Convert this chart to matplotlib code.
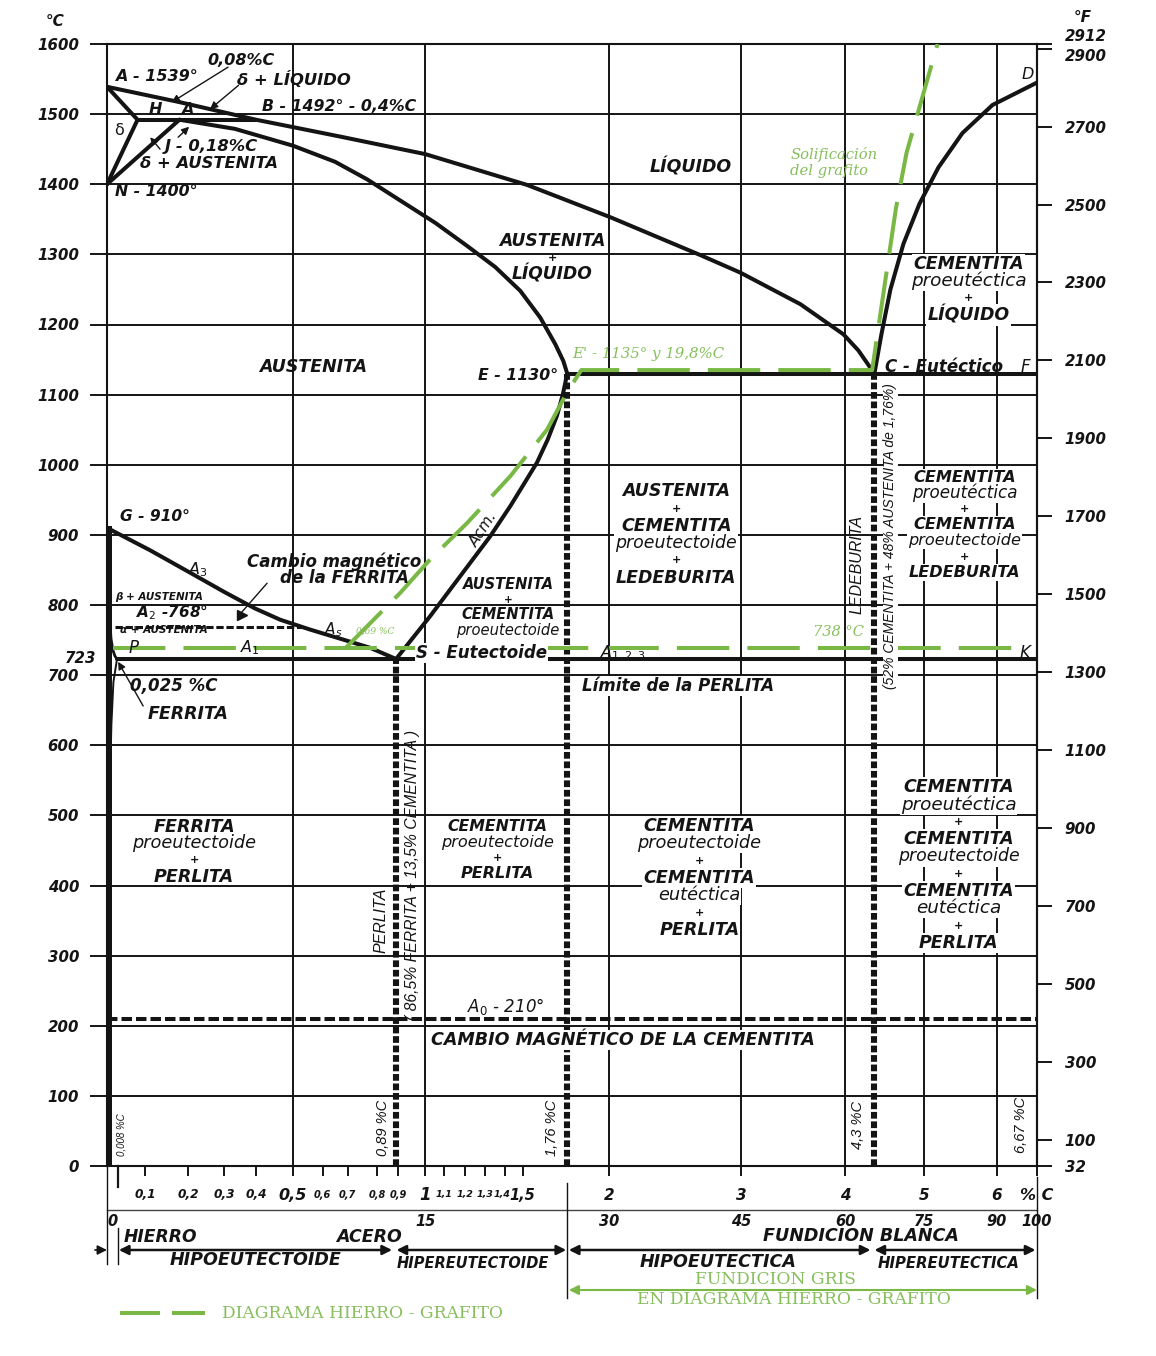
import numpy as np
import matplotlib
matplotlib.use("Agg")
import matplotlib.pyplot as plt
from matplotlib.transforms import blended_transform_factory

plt.rcParams['font.family'] = ['DejaVu Sans']
plt.rcParams['mathtext.fontset'] = 'dejavusans'

INK = '#141414'
GREEN = '#79b845'
GREEN_TXT = '#86bf5c'
SANS = 'DejaVu Sans'
NARROW = 'Liberation Sans'
SERIF = 'DejaVu Serif'

# ---------------- composition scale (% C -> drawing units) ----------------
scale_carbon = [0, 0.025, 0.1, 0.2, 0.3, 0.4, 0.5, 0.6, 0.7, 0.8, 0.9, 1.0, 1.1, 1.2,
                1.3, 1.4, 1.5, 1.76, 2, 3, 4, 4.3, 5, 6, 6.67]
scale_units = [0, 10, 38, 81, 117, 149, 185.5, 215.5, 240.5, 270, 291, 318, 337, 358,
               378, 398, 415.5, 460, 502, 633.5, 737.5, 767, 817, 889.5, 929.5]

# ---------------- grid and axis values ----------------
celsius_ticks = list(range(0, 1700, 100))
temp_grid = list(range(100, 1600, 100))
carbon_grid = [0.5, 1, 2, 3, 4, 5, 6]
carbon_ticks = [0.1, 0.2, 0.3, 0.4, 0.5, 0.6, 0.7, 0.8, 0.9, 1.0, 1.1, 1.2, 1.3, 1.4,
                1.5, 2, 3, 4, 5, 6, 6.67]
carbon_tick_labels = ["0,1", "0,2", "0,3", "0,4", "0,5", "0,6", "0,7", "0,8", "0,9", "1",
                      "1,1", "1,2", "1,3", "1,4", "1,5", "2", "3", "4", "5", "6", "% C"]
carbon_tick_sizes = [8.7, 8.7, 8.7, 8.7, 11.5, 7, 7, 7, 7, 12, 6.8, 6.8, 6.8, 6.8, 10.5,
                     11, 11, 11, 11, 11, 11.5]
fahrenheit_ticks = [32, 100, 300, 500, 700, 900, 1100, 1300, 1500, 1700, 1900, 2100,
                    2300, 2500, 2700, 2900, 2912]
cementite_pct = [0, 15, 30, 45, 60, 75, 90, 100]

# ---------------- invariant points ----------------
T_A, T_B, T_N, T_G = 1539, 1492, 1400, 910
C_H, C_J, C_B = 0.08, 0.18, 0.4
C_E, T_E = 1.76, 1130
C_C = 4.3
C_S, T_S = 0.89, 723
C_P = 0.025
C_FE3C = 6.67
T_A2 = 768
T_A0 = 210
T_GR_EUTECTIC = 1135
T_GR_EUTECTOID = 738
C_GR_EUTECTOID = 0.69

# ---------------- phase boundaries (% C, °C) ----------------
liq_abc_c = [0, 0.181, 0.4, 0.67, 1.0, 1.526, 2.008, 2.692, 2.996, 3.572, 3.986, 4.137, 4.3]
liq_abc_t = [1539, 1517, 1492, 1468, 1443, 1399, 1353, 1299, 1274, 1229, 1186, 1163, 1130]
liq_cd_c = [4.3, 4.398, 4.524, 4.706, 4.93, 5.193, 5.524, 5.938, 6.67]
liq_cd_t = [1130, 1186, 1250, 1315, 1372, 1424, 1473, 1513, 1545]
sol_je_c = [0.18, 0.334, 0.501, 0.65, 0.766, 0.907, 1.053, 1.21, 1.35, 1.486, 1.602, 1.69,
            1.737, 1.76]
sol_je_t = [1492, 1479, 1455, 1432, 1407, 1377, 1345, 1312, 1282, 1248, 1210, 1172, 1148,
            1130]
acm_c = [1.76, 1.734, 1.70, 1.646, 1.583, 1.503, 1.429, 1.325, 1.176, 1.026, 0.89]
acm_t = [1130, 1100, 1070, 1036, 1003, 971, 941, 898, 841, 784, 723]
a3_c = [0, 0.112, 0.206, 0.303, 0.397, 0.466, 0.558, 0.67, 0.776, 0.89]
a3_t = [910, 878, 846, 818, 795, 779, 765, 752, 739, 723]
gp_c = [0.007, 0.010, 0.015, 0.020, 0.025]
gp_t = [780, 752, 735, 727, 723]
pq_c = [0.025, 0.016, 0.011, 0.008]
pq_t = [723, 690, 630, 560]
# iron - graphite system
gr_c = [0.69, 0.907, 1.026, 1.21, 1.43, 1.642, 1.758, 1.84, 4.277, 4.6, 4.75, 5.18]
gr_t = [738, 817, 865, 917, 984, 1050, 1103, 1135, 1135, 1365, 1445, 1600]


def fwd(c):
    return np.interp(c, scale_carbon, scale_units)


def inv(u):
    return np.interp(u, scale_units, scale_carbon)


fig = plt.figure(figsize=(11.56, 13.56), dpi=100)
ax = fig.add_axes([107 / 1156, 190 / 1356, 930 / 1156, 1122 / 1356])
ax.set_xscale('function', functions=(fwd, inv))
ax.set_xlim(0, C_FE3C)
ax.set_ylim(0, 1600)
for s in ax.spines.values():
    s.set_linewidth(1.5)
    s.set_color(INK)

# grid
ax.hlines(temp_grid, 0, C_FE3C, color=INK, lw=1.4, zorder=1)
ax.vlines(carbon_grid, 0, 1600, color=INK, lw=1.4, zorder=1)

# left temperature scale
ax.set_yticks(celsius_ticks)
ax.set_yticklabels([str(v) for v in celsius_ticks])
ax.tick_params(axis='y', direction='out', length=12, width=1.4, pad=8, labelsize=10.8,
               colors=INK)
for lbl in ax.get_yticklabels():
    lbl.set_fontweight('bold')
    lbl.set_fontstyle('italic')

# bottom carbon scale
ax.set_xticks(carbon_ticks)
ax.set_xticklabels([''] * len(carbon_ticks))
ax.xaxis.set_minor_locator(matplotlib.ticker.NullLocator())
ax.tick_params(axis='x', direction='out', length=7, width=1.4, colors=INK)

# right Fahrenheit scale
sec = ax.secondary_yaxis('right', functions=(lambda c: c * 9 / 5 + 32,
                                             lambda f: (f - 32) * 5 / 9))
sec.set_yticks(fahrenheit_ticks)
sec.set_yticklabels([str(v) for v in fahrenheit_ticks])
sec.tick_params(direction='out', length=11, width=1.4, pad=9, labelsize=10.8, colors=INK)
sec.spines['right'].set_linewidth(1.5)
for lbl in sec.get_yticklabels():
    lbl.set_fontweight('bold')
    lbl.set_fontstyle('italic')
    if lbl.get_text() == '2912':
        lbl.set_va('bottom')
    elif lbl.get_text() == '2900':
        lbl.set_va('top')

# ---------------- phase lines ----------------
LW = 2.9
line_kw = dict(color=INK, lw=LW, zorder=4, solid_capstyle='round', solid_joinstyle='round')
ax.plot(liq_abc_c, liq_abc_t, **line_kw)
ax.plot(liq_cd_c, liq_cd_t, **line_kw)
ax.plot(sol_je_c, sol_je_t, **line_kw)
ax.plot(acm_c, acm_t, **line_kw)
ax.plot(a3_c, a3_t, **line_kw)
ax.plot([0, C_H], [T_A, T_B], **line_kw)
ax.plot([C_H, 0], [T_B, T_N], **line_kw)
ax.plot([C_J, 0], [T_B, T_N], **line_kw)
ax.plot([C_H, C_B], [T_B, T_B], **line_kw)
ax.plot([C_E, C_FE3C], [T_E, T_E], **line_kw)
ax.plot([C_P, C_FE3C], [T_S, T_S], **line_kw)
ax.plot([0.006, 0.006], [0, T_G], color=INK, lw=3.6, zorder=4)
ax.plot(gp_c, gp_t, color=INK, lw=2.0, zorder=4)
ax.plot(pq_c, pq_t, color=INK, lw=1.4, zorder=4)

# heavy dotted verticals at S, E and C
for c, t in [(C_S, T_S), (C_E, T_E), (C_C, T_E)]:
    ax.plot([c, c], [0, t], color=INK, lw=4.4, ls=(0, (1.1, 0.45)), zorder=4,
            dash_capstyle='butt')

# magnetic changes
ax.plot([0.02, 0.54], [T_A2, T_A2], color=INK, lw=2.2, ls=(0, (2.4, 0.9)), zorder=4)
ax.plot([0.0, C_FE3C], [T_A0, T_A0], color=INK, lw=2.9, ls=(0, (2.6, 1.0)), zorder=4)

# iron-graphite diagram (dashed green)
gkw = dict(color=GREEN, lw=2.9, ls=(0, (13, 4.5)), zorder=5, dash_capstyle='butt')
ax.plot(gr_c, gr_t, **gkw)
ax.plot([0.015, 6.45], [T_GR_EUTECTOID, T_GR_EUTECTOID], **gkw)


# ---------------- text helpers ----------------
def label(c, t, s, size=12, weight='bold', rot=0, ha='center', va='center',
          color=INK, family=SANS, style='italic', mask=False, z=6):
    kw = dict(fontsize=size, fontweight=weight, rotation=rot, ha=ha, va=va, family=family,
              color=color, style=style, zorder=z, rotation_mode='anchor')
    if mask:
        kw['bbox'] = dict(boxstyle='square,pad=0.06', fc='white', ec='none')
    ax.text(c, t, s, **kw)


def stack(c, t_top, lines, step=12.3, mask=False):
    """Centered block of region names; lowercase words are set lighter."""
    for i, (s, size) in enumerate(lines):
        light = s.islower()
        kw = dict(fontsize=size * 1.12 if light else size, style='italic',
                  fontweight='normal' if light else 'bold', color=INK, ha='center',
                  va='center', zorder=6)
        if mask and s != '+':
            kw['bbox'] = dict(boxstyle='square,pad=0.06', fc='white', ec='none')
        ax.annotate(s, (c, t_top), xytext=(0, -i * step), textcoords='offset points', **kw)


def leader(c0, t0, c1, t1, head=True):
    ax.annotate('', xy=(c1, t1), xytext=(c0, t0),
                arrowprops=dict(arrowstyle='-|>' if head else '-', color=INK, lw=1.0,
                                mutation_scale=11, shrinkA=0, shrinkB=0), zorder=6)


# upper left corner (delta region)
label(0.02, 1554, "A - 1539°", 11.5, ha='left')
label(0.253, 1576, "0,08%C", 11.5, ha='left')
label(0.34, 1550, "δ + LÍQUIDO", 11.8, ha='left')
leader(0.3125, 1567, 0.162, 1517)
leader(0.345, 1541, 0.261, 1507)
label(0.123, 1507, "H", 11.5)
label(0.198, 1507, "A", 11.5)
label(0.416, 1511, "B - 1492° - 0,4%C", 11.3, ha='left')
label(0.031, 1477, "δ", 11.5, weight='normal', style='normal')
label(0.1465, 1454, "J - 0,18%C", 11.8, ha='left')
leader(0.135, 1450, 0.112, 1467)
leader(0.177, 1467, 0.203, 1482)
label(0.087, 1429, "δ + AUSTENITA", 11.8, ha='left')
label(0.02, 1390, "N - 1400°", 11.3, ha='left')

# liquid and high-temperature regions
label(2.616, 1424, "LÍQUIDO", 12.5)
label(3.476, 1443, "Solificación", 10.6, family=SERIF, weight='normal', color=GREEN_TXT,
      ha='left')
label(3.476, 1419, "del grafito", 10.6, family=SERIF, weight='normal', color=GREEN_TXT,
      ha='left')
label(6.51, 1557, "D", 11.5, weight='normal')
stack(1.672, 1319, [("AUSTENITA", 12.3), ("+", 8), ("LÍQUIDO", 12.3)], step=11.9)
stack(5.607, 1286, [("CEMENTITA", 12.5), ("proeutéctica", 11.8), ("+", 8),
                    ("LÍQUIDO", 12.5)], step=12.2, mask=True)
label(0.568, 1140, "AUSTENITA", 12.5)
label(1.707, 1127, "E - 1130°", 11.3, ha='right')
label(1.789, 1158, "E' - 1135° y 19,8%C", 10.8, family=SERIF, weight='normal',
      color=GREEN_TXT, ha='left')
label(4.454, 1140, "C - Eutéctico", 12, ha='left')
label(6.477, 1140, "F", 12, weight='normal')

# between the eutectic and eutectoid lines
label(4.127, 858, "LEDEBURITA", 11.5, rot=90, family=NARROW, weight='normal')
label(4.524, 898, "(52% CEMENTITA + 48% AUSTENITA de 1,76%)", 10, rot=90, family=NARROW,
      weight='normal', mask=True)
stack(2.51, 962, [("AUSTENITA", 12.5), ("+", 8), ("CEMENTITA", 12.5), ("proeutectoide", 11.2),
                  ("+", 8), ("LEDEBURITA", 12.5)], step=12.4, mask=True)
stack(5.552, 982, [("CEMENTITA", 11.6), ("proeutéctica", 10.8), ("+", 8), ("CEMENTITA", 11.6),
                   ("proeutectoide", 10.4), ("+", 8), ("LEDEBURITA", 11.6)], step=11.4,
      mask=True)
stack(1.417, 829, [("AUSTENITA", 10.5), ("+", 7.5), ("CEMENTITA", 10.5),
                   ("proeutectoide", 9.5)], step=10.9)
label(1.29, 908, "Acm.", 11, weight='normal', rot=57)

# ferrite / austenite corner
label(0.033, 926, "G - 910°", 11.2, ha='left')
label(0.228, 851, "A$_3$", 11.5, weight='normal')
label(0.646, 862, "Cambio magnético", 12)
label(0.686, 839, "de la FERRITA", 12)
leader(0.43, 831, 0.35, 787, head=False)
ax.plot([0.355], [786], marker='>', ms=7, color=INK, zorder=6)
label(0.02, 811, "β + AUSTENITA", 7.5, ha='left')
label(0.076, 789, "A$_2$ -768°", 11, ha='left')
label(0.033, 764, "α + AUSTENITA", 7.5, ha='left')
label(0.068, 739, "P", 12, weight='normal')
label(0.38, 739, "A$_1$", 11.5, weight='normal')
label(0.642, 765, "A$_s$", 11, weight='normal')
label(0.793, 762, "0,69 %C", 6.5, family=SERIF, weight='normal', color=GREEN_TXT)
label(0.967, 732, "S - Eutectoide", 12, ha='left', mask=True)
label(3.9375, 762, "738 °C", 10.5, family=SERIF, weight='normal', color=GREEN_TXT)
label(1.949, 731, "A$_{1,2,3}$", 11.5, weight='normal', ha='left')
label(6.477, 732, "K", 12, weight='normal')

# below the eutectoid
label(2.525, 684, "Límite de la PERLITA", 12, mask=True)
label(0.06, 685, "0,025 %C", 12, ha='left')
label(0.105, 644, "FERRITA", 12.5, ha='left')
leader(0.095, 656, 0.028, 719)
ax.text(-0.012, T_S, "723", transform=blended_transform_factory(ax.transAxes, ax.transData),
        ha='right', va='center', fontsize=10.8, fontweight='bold', style='italic', color=INK)
stack(0.217, 484, [("FERRITA", 12.6), ("proeutectoide", 11.4), ("+", 8), ("PERLITA", 12.6)],
      step=12.0)
stack(1.36, 484, [("CEMENTITA", 11.3), ("proeutectoide", 10.4), ("+", 8), ("PERLITA", 11.5)],
      step=11.3)
stack(2.684, 485, [("CEMENTITA", 12.6), ("proeutectoide", 11.4), ("+", 8), ("CEMENTITA", 12.6),
                   ("eutéctica", 11.4), ("+", 8), ("PERLITA", 12.6)], step=12.5, mask=True)
stack(5.469, 540, [("CEMENTITA", 12.5), ("proeutéctica", 11.8), ("+", 8), ("CEMENTITA", 12.5),
                   ("proeutectoide", 11.2), ("+", 8), ("CEMENTITA", 12.5),
                   ("eutéctica", 11.8), ("+", 8), ("PERLITA", 12.5)], step=12.45, mask=True)
label(0.819, 351, "PERLITA", 11.5, rot=90, family=NARROW, weight='normal')
label(0.952, 415, "( 86,5% FERRITA + 13,5% CEMENTITA )", 11.3, rot=90, family=NARROW,
      weight='normal')
label(1.4, 227, "A$_0$ - 210°", 12, weight='normal')
label(2.106, 180, "CAMBIO MAGNÉTICO DE LA CEMENTITA", 12.6, mask=True)
label(0.0357, 44, "0,008 %C", 7, rot=90, family=NARROW, weight='normal')
label(0.829, 54, "0,89 %C", 10.5, rot=90, family=NARROW, weight='normal')
label(1.672, 54, "1,76 %C", 10.5, rot=90, family=NARROW, weight='normal')
label(4.137, 58, "4,3 %C", 10.5, rot=90, family=NARROW, weight='normal')
label(6.41, 58, "6,67 %C", 10.5, rot=90, family=NARROW, weight='normal')

# unit captions
fig.text(55 / 1156, 1 - 22 / 1356, "°C", ha='center', va='center', fontsize=11,
         fontweight='bold', style='italic', color=INK)
fig.text(1083 / 1156, 1 - 18 / 1356, "°F", ha='center', va='center', fontsize=11,
         fontweight='bold', style='italic', color=INK)

# ---------------- lower scales and classification ----------------
bt = blended_transform_factory(ax.transData, ax.transAxes)


def yfrac(px):
    return (1166 - px) / 1122


for c, s, size in zip(carbon_ticks, carbon_tick_labels, carbon_tick_sizes):
    # the crowded 1,4 label is nudged left so that it clears 1,5
    xc = c - 0.015 if s == "1,4" else c
    ax.text(xc, yfrac(1195), s, transform=bt, ha='center', va='center', fontsize=size,
            style='italic', fontweight='bold', color=INK, clip_on=False)

ax.plot([0, C_FE3C], [yfrac(1210), yfrac(1210)], transform=bt, color='#444444', lw=1.0,
        clip_on=False)
for p in cementite_pct:
    ax.text(p / 15 + (0.014 if p == 0 else 0), yfrac(1221), str(p), transform=bt,
            ha='center', va='center', fontsize=10.5, fontweight='bold', style='italic',
            color=INK, clip_on=False)

vkw = dict(transform=bt, color=INK, lw=1.0, clip_on=False)
ax.plot([0, 0], [0, yfrac(1264)], **vkw)
ax.plot([0.028, 0.028], [0, yfrac(1187)], transform=bt, color=INK, lw=1.6, clip_on=False)
ax.plot([0.028, 0.028], [yfrac(1228), yfrac(1264)], **vkw)
ax.plot([C_E, C_E], [yfrac(1183), yfrac(1298)], **vkw)
ax.plot([C_FE3C, C_FE3C], [yfrac(1177), yfrac(1298)], **vkw)

akw = dict(arrowstyle='<|-|>', color=INK, lw=1.8, mutation_scale=14, shrinkA=0, shrinkB=0)
for c0, c1 in [(0.03, 0.871), (0.892, 1.754), (1.769, 4.26), (4.30, 6.645)]:
    ax.annotate('', xy=(c1, yfrac(1250)), xytext=(c0, yfrac(1250)),
                xycoords=bt, textcoords=bt, arrowprops=akw, annotation_clip=False)
ax.annotate('', xy=(0, yfrac(1250)), xytext=(-0.013, yfrac(1250)),
            xycoords='axes fraction', textcoords='axes fraction',
            arrowprops=dict(arrowstyle='-|>', color=INK, lw=1.2, mutation_scale=14,
                            shrinkA=0, shrinkB=0), annotation_clip=False)


def below(c, px, s, size=12, ha='center', color=INK, family=SANS, style='italic',
          weight='bold'):
    ax.text(c, yfrac(px), s, transform=bt, ha=ha, va='center', fontsize=size, style=style,
            fontweight=weight, color=color, family=family, clip_on=False)


below(0.044, 1237, "HIERRO", 12.3, ha='left')
below(0.915, 1237, "ACERO", 12.5, ha='right')
below(0.397, 1260, "HIPOEUTECTOIDE", 12.6)
below(1.24, 1263, "HIPEREUTECTOIDE", 10.5)
below(4.16, 1236, "FUNDICION BLANCA", 12.6)
below(2.83, 1262, "HIPOEUTECTICA", 12.6)
below(5.33, 1264, "HIPEREUTECTICA", 10.7)
below(3.33, 1279, "FUNDICION GRIS", 12.3, color=GREEN_TXT, family=SERIF,
      style='normal', weight='normal')
below(3.51, 1300, "EN DIAGRAMA HIERRO - GRAFITO", 12.3, color=GREEN_TXT,
      family=SERIF, style='normal', weight='normal')
ax.annotate('', xy=(C_FE3C, yfrac(1290)), xytext=(1.769, yfrac(1290)), xycoords=bt,
            textcoords=bt, annotation_clip=False,
            arrowprops=dict(arrowstyle='<|-|>', color=GREEN, lw=1.5, mutation_scale=14,
                            shrinkA=0, shrinkB=0))

# legend for the iron-graphite lines
ax.plot([0.033, 0.135], [yfrac(1313), yfrac(1313)], transform=bt, color=GREEN, lw=2.9,
        clip_on=False, solid_capstyle='butt')
ax.plot([0.163, 0.247], [yfrac(1313), yfrac(1313)], transform=bt, color=GREEN, lw=2.9,
        clip_on=False, solid_capstyle='butt')
below(0.294, 1313, "DIAGRAMA HIERRO - GRAFITO", 12.3, ha='left', color=GREEN_TXT,
      family=SERIF, style='normal', weight='normal')

fig.savefig("out.png", dpi=100, facecolor='white')
